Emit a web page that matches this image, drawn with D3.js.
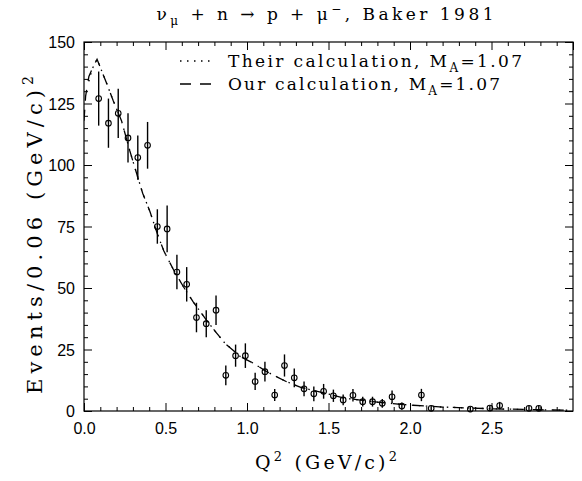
<!DOCTYPE html>
<html><head><meta charset="utf-8">
<script src="https://cdn.jsdelivr.net/npm/d3@7"></script>
<style>body{margin:0;background:#fff}svg{display:block}</style>
</head><body>
<script>
// ---- data ----
const q2 = [0.09,0.15,0.21,0.27,0.33,0.39,0.45,0.51,0.57,0.63,0.69,0.75,0.81,0.87,0.93,0.99,1.05,1.11,1.17,1.23,1.29,1.35,1.41,1.47,1.53,1.59,1.65,1.71,1.77,1.83,1.89,1.95,2.07,2.13,2.37,2.49,2.55,2.73,2.79];
const events = [127,117,121,111,103,108,75,74,56.5,51.5,38,35.5,41,14.5,22.5,22.5,12,16,6.5,18.5,13.5,9,7,8,6.2,4.5,6.4,3.8,3.8,3.1,5.8,2,6.5,1.1,0.8,1.2,2.2,1.1,1.1];
const errors = [11,10,10,10,9,9.5,7,9.5,7,7,6,5.5,6,4,4.5,5,3.5,4,2.4,4.5,3.8,3,3,3,2.5,2.2,2.5,2,2,1.8,2.5,1.5,2.5,1,1,1,1.5,1,1];

const curveQ2 = [0.0,0.01,0.03,0.05,0.08,0.11,0.14,0.18,0.23,0.28,0.33,0.36,0.405,0.45,0.49,0.55,0.61,0.67,0.75,0.81,0.865,0.96,1.04,1.12,1.24,1.33,1.47,1.6,1.8,2.0,2.2,2.5,2.8,2.97];
const ourCalc   = [118,128,136,139,143,138,133,126,118,106,95,88.5,81,72,65,57.3,50.5,44.4,37,32,27.5,22.1,19.4,16,12,9.6,7.4,5.2,3.6,2.4,1.6,0.9,0.5,0.3];
const theirCalc = [null,null,134,139,143,138,133,126,118,106,95,88.5,81,72,65,57.3,50.5,44.4,37,32,27.5,22.1,19.4,16,12,9.6,7.4,5.2,3.6,2.4,1.6,0.9,0.5,0.3];

const xMajor = [0,0.5,1,1.5,2,2.5];
const xLabels = ["0.0","0.5","1.0","1.5","2.0","2.5"];
const yMajor = [0,25,50,75,100,125,150];

// ---- layout ----
const W = 582, H = 481;
const L = 84, R = 573, T = 42, B = 411;
const svg = d3.select("body").append("svg").attr("width", W).attr("height", H);

const x = d3.scaleLinear().domain([0, 3]).range([L, R]);
const y = d3.scaleLinear().domain([0, 150]).range([B, T]);

const serif = "'DejaVu Serif', serif";
const sans = "'Liberation Sans', Arial, sans-serif";

// frame
svg.append("rect").attr("x", L).attr("y", T).attr("width", R - L).attr("height", B - T)
  .attr("fill", "none").attr("stroke", "#000").attr("stroke-width", 1.2);

const xMinor = d3.range(0, 30).map(i => i / 10).filter(v => !xMajor.some(m => Math.abs(m - v) < 1e-6) && v > 0);
const yMinor = d3.range(0, 31).map(i => i * 5).filter(v => v % 25 !== 0);

function tickAxes(gen, pos, major, minor, majLen, minLen, fmt, labels) {
  const gA = svg.append("g").attr("transform", pos)
    .call(gen.tickValues(major).tickSize(majLen).tickSizeOuter(0).tickPadding(10).tickFormat(fmt));
  gA.select(".domain").remove();
  gA.selectAll("line").attr("stroke", "#000").attr("stroke-width", 1);
  gA.selectAll("text").attr("font-family", sans).attr("font-size", 16).attr("fill", "#000");
  if (!labels) gA.selectAll("text").remove();
  const gB = svg.append("g").attr("transform", pos)
    .call(gen.tickValues(minor).tickSize(minLen).tickFormat(""));
  gB.select(".domain").remove();
  gB.selectAll("line").attr("stroke", "#000").attr("stroke-width", 1);
  return gA;
}
const gxb = tickAxes(d3.axisBottom(x), `translate(0,${B})`, xMajor, xMinor, -8, -4, (d, i) => xLabels[i], true);
gxb.selectAll("text").attr("dy", "0").attr("y", 23);
tickAxes(d3.axisTop(x), `translate(0,${T})`, xMajor.concat([3]), xMinor, -8, -4, "", false);
const gyl = tickAxes(d3.axisLeft(y), `translate(${L},0)`, yMajor, yMinor, -8, -4, d3.format("d"), true);
gyl.selectAll("text").attr("x", -9).attr("dy", "0.36em");
tickAxes(d3.axisRight(y), `translate(${R},0)`, yMajor, yMinor, -8, -4, "", false);

// curves
const lineGen = d3.line().defined(d => d[1] != null).x(d => x(d[0])).y(d => y(d[1]));
const clip = svg.append("clipPath").attr("id", "clp").append("rect")
  .attr("x", L).attr("y", T).attr("width", R - L).attr("height", B - T);
svg.append("path").datum(curveQ2.map((q, i) => [q, theirCalc[i]]))
  .attr("d", lineGen).attr("fill", "none").attr("stroke", "#000").attr("stroke-width", 1.3)
  .attr("stroke-dasharray", "1.5,5.5").attr("clip-path", "url(#clp)");
svg.append("path").datum(curveQ2.map((q, i) => [q, ourCalc[i]]))
  .attr("d", lineGen).attr("fill", "none").attr("stroke", "#000").attr("stroke-width", 1.3)
  .attr("stroke-dasharray", "11,9").attr("clip-path", "url(#clp)");

// data points with error bars
const pts = svg.append("g");
pts.selectAll("line").data(q2).join("line")
  .attr("x1", d => x(d)).attr("x2", d => x(d))
  .attr("y1", (d, i) => y(Math.max(0, events[i] - errors[i])))
  .attr("y2", (d, i) => y(events[i] + errors[i]))
  .attr("stroke", "#000").attr("stroke-width", 1.4);
pts.selectAll("circle").data(q2).join("circle")
  .attr("cx", d => x(d)).attr("cy", (d, i) => y(events[i])).attr("r", 2.8)
  .attr("fill", "none").attr("stroke", "#000").attr("stroke-width", 1.1);

// legend
const legendLabels = ["Their calculation, M", "Our calculation, M"];
const legendDash = ["1.5,5.5", "11,9"];
const legendLen = [294, 272];
legendLabels.forEach((lab, i) => {
  const by = 67 + i * 23;
  svg.append("line").attr("x1", 180).attr("x2", 215).attr("y1", by - 6).attr("y2", by - 6)
    .attr("stroke", "#000").attr("stroke-width", 1.3).attr("stroke-dasharray", legendDash[i]);
  const t = svg.append("text").attr("x", 228).attr("y", by).attr("font-family", serif).attr("font-size", 17)
    .attr("textLength", legendLen[i]).attr("lengthAdjust", "spacing");
  t.append("tspan").text(lab);
  t.append("tspan").attr("dy", 5).attr("font-size", 12).text("A");
  t.append("tspan").attr("dy", -5).text("=1.07");
});

// title
const tt = svg.append("text").attr("x", 325).attr("y", 20).attr("text-anchor", "middle")
  .attr("font-family", serif).attr("font-size", 17).attr("textLength", 337).attr("lengthAdjust", "spacing");
tt.append("tspan").text("ν");
tt.append("tspan").attr("dy", 5).attr("font-size", 12).text("μ");
tt.append("tspan").attr("dy", -5).text(" + n → p + μ");
tt.append("tspan").attr("dy", -7).attr("font-size", 12).text("−");
tt.append("tspan").attr("dy", 7).text(", Baker 1981");

// x label
const xl = svg.append("text").attr("x", 326).attr("y", 469).attr("text-anchor", "middle")
  .attr("font-family", serif).attr("font-size", 19).attr("textLength", 142).attr("lengthAdjust", "spacing");
xl.append("tspan").text("Q");
xl.append("tspan").attr("dy", -8).attr("font-size", 13).text("2");
xl.append("tspan").attr("dy", 8).text(" (GeV/c)");
xl.append("tspan").attr("dy", -8).attr("font-size", 13).text("2");

// y label
const yl = svg.append("text").attr("transform", "translate(42,235) rotate(-90)").attr("text-anchor", "middle")
  .attr("font-family", serif).attr("font-size", 21).attr("textLength", 318).attr("lengthAdjust", "spacing");
yl.append("tspan").text("Events/0.06 (GeV/c)");
yl.append("tspan").attr("dy", -9).attr("font-size", 14).text("2");
</script>
</body></html>
